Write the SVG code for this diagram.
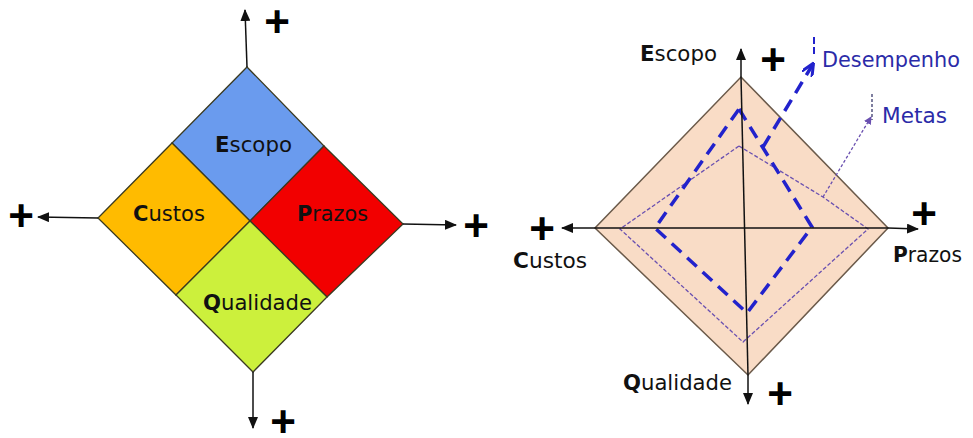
<svg xmlns="http://www.w3.org/2000/svg" width="973" height="438" viewBox="0 0 973 438">
<style>
.lbl{font-family:"DejaVu Sans","Verdana",sans-serif;font-size:21.5px;fill:#111}
.b{font-weight:bold}
.plus{font-family:"Liberation Sans",Arial,sans-serif;font-weight:bold;font-size:44px;fill:#000;text-anchor:middle}
.ax{stroke:#111;stroke-width:1.5;fill:none}
.q{stroke:#3a3a20;stroke-width:1.3}
.blue{font-family:"DejaVu Sans","Verdana",sans-serif;font-size:21.5px;fill:#2b2ba8}
</style>
<defs>
<marker id="ah" markerUnits="userSpaceOnUse" markerWidth="12" markerHeight="10" refX="11" refY="5" orient="auto">
<path d="M0,0 L12,5 L0,10 Z" fill="#111"/>
</marker>
<marker id="ahb" markerUnits="userSpaceOnUse" markerWidth="14" markerHeight="12" refX="12" refY="6" orient="auto">
<path d="M0,0 L13,6 L0,12" fill="none" stroke="#2222cc" stroke-width="3"/>
</marker>
<marker id="ahm" markerUnits="userSpaceOnUse" markerWidth="8" markerHeight="8" refX="7" refY="4" orient="auto">
<path d="M0,0 L8,4 L0,8 Z" fill="#6a50b0"/>
</marker>
</defs>

<!-- Left diagram -->
<g id="escopo-left">
<polygon class="q" points="247,67 324,146 250,221 172,143" fill="#6a9bee"/>
<text class="lbl" x="215" y="152" textLength="77" lengthAdjust="spacingAndGlyphs" fill="#101040"><tspan class="b">E</tspan>scopo</text>
</g>
<g id="prazos-left">
<polygon class="q" points="324,146 403,224 327,297 250,221" fill="#f20000"/>
<text class="lbl" x="297" y="221" textLength="71" lengthAdjust="spacingAndGlyphs"><tspan class="b">P</tspan>razos</text>
</g>
<g id="custos-left">
<polygon class="q" points="172,143 250,221 176,295 98,218" fill="#ffbb00"/>
<text class="lbl" x="133" y="221" textLength="72" lengthAdjust="spacingAndGlyphs"><tspan class="b">C</tspan>ustos</text>
</g>
<g id="qualidade-left">
<polygon class="q" points="250,221 327,297 253,372 176,295" fill="#ccf03c"/>
<text class="lbl" x="203" y="310" textLength="109" lengthAdjust="spacingAndGlyphs"><tspan class="b">Q</tspan>ualidade</text>
</g>

<g id="connectors-left">
<line class="ax" x1="247" y1="67" x2="245" y2="10" marker-end="url(#ah)"/>
<line class="ax" x1="98" y1="218" x2="38" y2="217" marker-end="url(#ah)"/>
<line class="ax" x1="403" y1="224" x2="456" y2="225" marker-end="url(#ah)"/>
<line class="ax" x1="253" y1="372" x2="253" y2="428" marker-end="url(#ah)"/>
</g>
<g id="plus-left">
<text class="plus" x="277" y="37">+</text>
<text class="plus" x="21" y="231">+</text>
<text class="plus" x="476" y="241">+</text>
<text class="plus" x="283" y="437">+</text>
</g>

<!-- Right diagram -->
<g id="diamond-right">
<polygon points="741,77 888,228 748,375 595,228" fill="#f9dcc6" stroke="#6b5a4a" stroke-width="1.5"/>
</g>
<g id="metas-poly">
<polygon points="739,146 823,197 868,229 743,342 620,229" fill="none" stroke="#6a50b0" stroke-width="1.3" stroke-dasharray="4,2"/>
</g>
<g id="desempenho-poly">
<polygon points="739,109 812,227 747,313 655,228" fill="none" stroke="#2222cc" stroke-width="3.5" stroke-dasharray="13,8"/>
</g>
<g id="connectors-right">
<line class="ax" x1="741" y1="77" x2="741" y2="49" marker-end="url(#ah)"/>
<line class="ax" x1="741" y1="77" x2="748" y2="375"/>
<line class="ax" x1="748" y1="375" x2="748" y2="404" marker-end="url(#ah)"/>
<line class="ax" x1="888" y1="228" x2="918" y2="229" marker-end="url(#ah)"/>
<line class="ax" x1="888" y1="228" x2="595" y2="228"/>
<line class="ax" x1="595" y1="228" x2="562" y2="228" marker-end="url(#ah)"/>
<line x1="763" y1="147" x2="813" y2="64" stroke="#2222cc" stroke-width="3.5" stroke-dasharray="13,8" marker-end="url(#ahb)"/>
<line x1="823" y1="197" x2="871" y2="117" stroke="#6a50b0" stroke-width="1.3" stroke-dasharray="3,2" marker-end="url(#ahm)"/>
<line x1="814" y1="37" x2="814" y2="54" stroke="#2222cc" stroke-width="2" stroke-dasharray="7,3"/>
<line x1="872" y1="94" x2="872" y2="120" stroke="#2a2a60" stroke-width="1.2" stroke-dasharray="3,2"/>
</g>
<g id="labels-right">
<text class="lbl" x="640" y="61" textLength="77" lengthAdjust="spacingAndGlyphs"><tspan class="b">E</tspan>scopo</text>
<text class="lbl" x="513" y="268" textLength="74" lengthAdjust="spacingAndGlyphs"><tspan class="b">C</tspan>ustos</text>
<text class="lbl" x="893" y="262" textLength="69" lengthAdjust="spacingAndGlyphs"><tspan class="b">P</tspan>razos</text>
<text class="lbl" x="623" y="390" textLength="109" lengthAdjust="spacingAndGlyphs"><tspan class="b">Q</tspan>ualidade</text>
<text class="blue" x="822" y="67" textLength="138" lengthAdjust="spacingAndGlyphs">Desempenho</text>
<text class="blue" x="882" y="123" textLength="65" lengthAdjust="spacingAndGlyphs">Metas</text>
</g>
<g id="plus-right">
<text class="plus" x="773" y="75">+</text>
<text class="plus" x="542" y="244">+</text>
<text class="plus" x="924" y="229">+</text>
<text class="plus" x="780" y="409">+</text>
</g>
</svg>
